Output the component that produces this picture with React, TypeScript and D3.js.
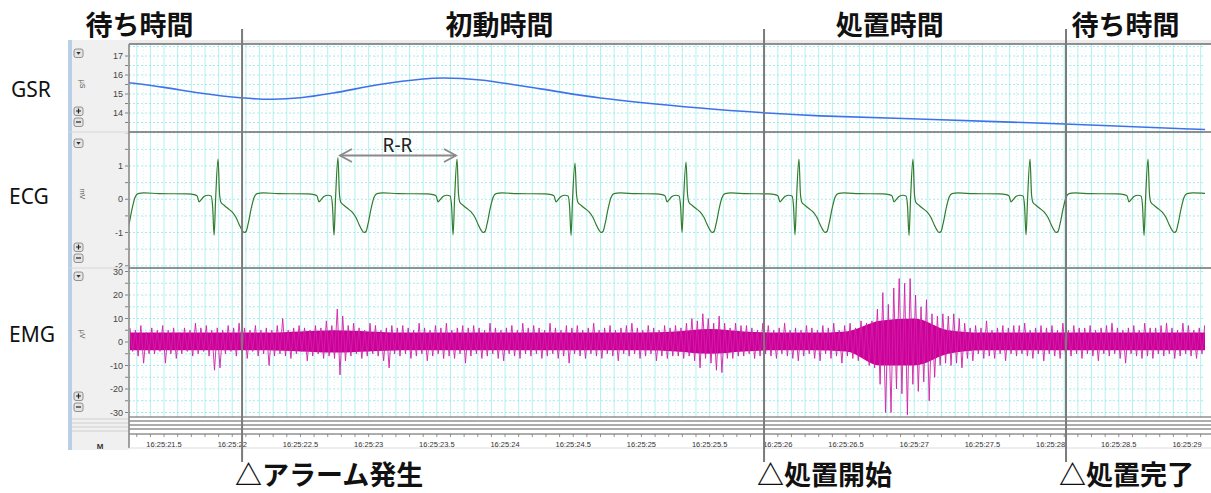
import React from 'react';
import * as d3 from 'd3';

// ---------------- data ----------------
const phaseLabels = ['待ち時間', '初動時間', '処置時間', '待ち時間'];
const phaseCenters = [21.32, 23.96, 26.82, 28.55];

const eventLabels = ['△アラーム発生', '△処置開始', '△処置完了'];
const eventTimes = [22.072, 25.899, 28.113];

const panelNames = ['GSR', 'ECG', 'EMG'];
const panelUnits = ['μS', 'mV', 'μV'];

const timeTicks = [21.5, 22, 22.5, 23, 23.5, 24, 24.5, 25, 25.5, 26, 26.5, 27, 27.5, 28, 28.5, 29];

const gsrTicks = [14, 15, 16, 17];
const ecgTicks = [-2, -1, 0, 1];
const emgTicks = [-30, -20, -10, 0, 10, 20, 30];

// GSR (μS) sampled from the trace
const gsrTimes = [21.243, 21.5, 21.76, 22.06, 22.3, 22.5, 22.74, 23.08, 23.38, 23.55, 23.82, 24.26, 24.7, 25.43, 25.92, 26.31, 27.14, 28.1, 29.02, 29.14];
const gsrValues = [15.59, 15.35, 15.05, 14.8, 14.72, 14.8, 15.05, 15.5, 15.78, 15.84, 15.74, 15.27, 14.79, 14.26, 14.0, 13.85, 13.66, 13.42, 13.16, 13.13];

// ECG (mV): R-peak times, peak heights, Q depths and one beat shape
const ecgBeatTimes = [21.023, 21.896, 22.775, 23.648, 24.513, 25.327, 26.155, 26.991, 27.849, 28.714];
const ecgRPeak = [1.2, 1.21, 1.25, 1.21, 1.09, 1.12, 1.21, 1.21, 1.21, 1.21];
const ecgQTrough = [-1.05, -1.08, -1.08, -1.07, -1.09, -1.0, -1.07, -1.09, -1.07, -1.09];
const ecgShapeDt = [-0.22, -0.176, -0.154, -0.139, -0.125, -0.103, -0.073, -0.051, -0.04, -0.029, -0.018, 0, 0.011, 0.022, 0.044, 0.073, 0.103, 0.132, 0.154, 0.176, 0.191, 0.205, 0.22, 0.242, 0.264, 0.286, 0.33, 0.44];
const ecgShapeV = [0.16, 0.14, 0.1, -0.08, -0.02, 0.08, 0.12, 0.1, -0.2, -1.05, 0.0, 1.2, 0.15, -0.1, -0.18, -0.28, -0.38, -0.55, -0.75, -0.93, -1.0, -0.97, -0.75, -0.3, 0.05, 0.17, 0.19, 0.17];
const ecgQIndex = 9;
const ecgRIndex = 11;

// EMG (μV): alternating peaks every 0.02 s from 21.25 s (one row = 0.5 s)
const emgStart = 21.25;
const emgStep = 0.02;
const emgPeaks = [
  6, -4, 5, -6, 7, -9, 4, -5, 6, -5, 5, -4, 7, -9, 5, -5, 6, -7, 4, -5, 6, -4, 5, -6, 8,
  -5, 6, -4, 7, -6, 5, -12, 6, -11, 5, -5, 7, -4, 6, -6, 8, -5, 6, -7, 5, -4, 7, -6, 5, -5,
  6, -10, 5, -6, 7, -5, 10, -6, 5, -7, 6, -5, 7, -4, 6, -8, 5, -6, 7, -5, 6, -7, 9, -6, 7,
  -7, 14, -14, 11, -8, 7, -6, 8, -5, 6, -7, 5, -6, 8, -5, 7, -6, 5, -8, 6, -11, 7, -5, 6, -6,
  7, -5, 6, -7, 5, -6, 8, -5, 6, -8, 5, -6, 7, -5, 6, -7, 8, -6, 5, -7, 6, -5, 7, -9, 6,
  -6, 7, -5, 6, -7, 5, -6, 8, -5, 6, -7, 5, -8, 6, -5, 7, -6, 5, -7, 8, -5, 6, -6, 7, -5,
  6, -7, 5, -6, 8, -5, 6, -7, 5, -6, 7, -9, 6, -5, 7, -6, 5, -7, 6, -5, 8, -6, 5, -7, 6,
  -5, 7, -6, 5, -8, 6, -5, 7, -6, 8, -5, 6, -7, 5, -6, 7, -5, 6, -8, 5, -6, 7, -7, 6, -6,
  7, -6, 6, -7, 8, -6, 10, -8, 9, -11, 12, -7, 10, -9, 8, -12, 11, -13, 8, -7, 6, -7, 8, -6, 7,
  -6, 7, -5, 6, -7, 5, -6, 8, -5, 7, -6, 5, -7, 6, -5, 8, -6, 5, -7, 6, -8, 5, -6, 7, -5,
  6, -7, 5, -8, 7, -5, 6, -7, 8, -6, 5, -9, 7, -6, 8, -7, 6, -8, 9, -7, 8, -10, 9, -11, 14,
  -18, 21, -30, 16, -30, 23, -20, 27, -22, 25, -31, 27, -18, 20, -21, 15, -17, 18, -25, 12, -15, 11, -10, 12, -9,
  11, -10, 12, -9, 10, -11, 8, -7, 6, -8, 7, -5, 6, -7, 9, -6, 5, -7, 6, -5, 7, -8, 6, -5, 7,
  -6, 7, -5, 8, -6, 5, -7, 6, -5, 7, -8, 6, -5, 7, -6, 5, -7, 8, -6, 5, -6, 7, -5, 6, -7,
  6, -5, 7, -6, 5, -8, 6, -5, 7, -6, 8, -5, 6, -7, 5, -9, 6, -5, 7, -6, 5, -7, 8, -6, 6,
  -7, 6, -5, 7, -6, 8, -5, 6, -7, 5, -6, 8, -5, 7, -6, 5, -7, 6, -5, 7, -8, 6, -5, 7, -6,
];
// dense core band of the EMG, every 0.25 s from 21.25 s
const emgCoreStep = 0.25;
const emgCoreHi = [4, 4, 4, 4, 4, 4.5, 5, 4.5, 4, 4, 4, 4, 4, 4, 4, 4, 4.5, 5.5, 4.5, 4, 4, 4.5, 9, 10, 5, 4, 4, 4, 4, 4, 4, 4, 4];
const emgCoreLo = [-3.5, -3.5, -3.5, -3.5, -3.5, -4, -4.5, -4, -3.5, -3.5, -3.5, -3.5, -3.5, -3.5, -3.5, -3.5, -4, -5, -4, -3.5, -3.5, -4, -10, -10, -5, -3.5, -3.5, -3.5, -3.5, -3.5, -3.5, -3.5, -3.5];

// ---------------- layout ----------------
const W = 1211;
const H = 493;
const PL = 129;
const PR = 1205;
const STRIP_L = 68;
const panels = [
  { top: 44, bottom: 132 },
  { top: 132, bottom: 268 },
  { top: 268, bottom: 417 },
];

const x = d3.scaleLinear().domain([21.243, 29.132]).range([PL, PR]);
const yG = d3.scaleLinear().domain([14, 17]).range([113, 56]);
const yE = d3.scaleLinear().domain([-1, 1]).range([232.5, 166]);
const yM = d3.scaleLinear().domain([-30, 30]).range([412.5, 271.5]);

const CJK = "'Noto Sans CJK JP', 'Noto Sans', sans-serif";
const SANS = "'Noto Sans', 'Open Sans', sans-serif";
const SMALL = "'Liberation Sans', Arial, sans-serif";

function fmtTime(t: number) {
  const s = Number.isInteger(t) ? String(t) : t.toFixed(1);
  return '16:25:' + s;
}

function range(a: number, b: number, step: number) {
  const out: number[] = [];
  for (let v = a; v <= b + 1e-9; v += step) out.push(+v.toFixed(4));
  return out;
}

function Grid({ top, bottom, y, hStep, hFrom, hTo }: any) {
  const vt = range(21.3, 29.1, 0.1);
  const ht = range(hFrom, hTo, hStep);
  return (
    <g>
      {vt.map((t, i) => (
        <line key={'v' + i} x1={x(t)} x2={x(t)} y1={top} y2={bottom} stroke="#b4f0f2" strokeWidth={1} />
      ))}
      {vt.map((t, i) => (
        <line key={'vd' + i} x1={x(t + 0.05)} x2={x(t + 0.05)} y1={top} y2={bottom} stroke="#d2f6f7" strokeWidth={1} strokeDasharray="1,2" />
      ))}
      {ht.map((v, i) => (
        <line key={'h' + i} x1={PL} x2={PR} y1={y(v)} y2={y(v)} stroke="#a6ecef" strokeWidth={1} strokeDasharray="2,2" />
      ))}
    </g>
  );
}

function Button({ cx, cy, glyph }: any) {
  return (
    <g>
      <rect x={cx - 4.5} y={cy - 4} width={9} height={8.5} rx={2} fill="#e4e4e4" stroke="#7a7a7a" strokeWidth={0.8} />
      {glyph === 'down' && <path d={`M${cx - 2.2},${cy - 1} L${cx + 2.2},${cy - 1} L${cx},${cy + 1.8} Z`} fill="#333" />}
      {glyph === 'plus' && <path d={`M${cx - 2.5},${cy} H${cx + 2.5} M${cx},${cy - 2.5} V${cy + 2.5}`} stroke="#222" strokeWidth={1.2} />}
      {glyph === 'minus' && <path d={`M${cx - 2.5},${cy} H${cx + 2.5}`} stroke="#222" strokeWidth={1.2} />}
    </g>
  );
}

export default function App() {
  // GSR path
  const gsrPts: [number, number][] = gsrTimes.map((t, i) => [x(t), yG(gsrValues[i])]);
  const gsrPath = d3.line().curve(d3.curveCatmullRom.alpha(0.5))(gsrPts) || '';

  // ECG path
  const ecgPts: [number, number][] = [];
  ecgBeatTimes.forEach((bt, b) => {
    ecgShapeDt.forEach((dt, k) => {
      let v = ecgShapeV[k];
      if (k === ecgQIndex) v = ecgQTrough[b];
      if (k === ecgRIndex) v = ecgRPeak[b];
      ecgPts.push([x(bt + dt), yE(v)]);
    });
  });
  const ecgPath = d3.line().curve(d3.curveMonotoneX)(ecgPts) || '';

  // EMG
  const emgPts: [number, number][] = emgPeaks.map((v, i) => [x(emgStart + i * emgStep), yM(v)]);
  const emgPath = d3.line()(emgPts) || '';
  const coreArea =
    d3
      .area<number>()
      .x((_, i) => x(emgStart + i * emgCoreStep))
      .y0((_, i) => yM(emgCoreLo[i]))
      .y1((d) => yM(d))
      .curve(d3.curveMonotoneX)(emgCoreHi) || '';

  const yScales = [yG, yE, yM];
  const tickSets = [gsrTicks, ecgTicks, emgTicks];
  const minorSets = [range(13.5, 17, 0.5), range(-2, 2, 0.5), range(-30, 30, 5)];
  const gridDefs = [
    { y: yG, hStep: 0.5, hFrom: 13, hTo: 17.5 },
    { y: yE, hStep: 0.5, hFrom: -2, hTo: 2 },
    { y: yM, hStep: 5, hFrom: -30, hTo: 30 },
  ];
  const labelY = [90, 197, 335];
  const unitY = [84, 194, 334];
  const buttonY = [
    [53, 111, 122],
    [143, 247, 258],
    [276, 396, 407],
  ];

  const xTicksMinor = range(21.3, 29.1, 0.1);

  return (
    <div style={{ position: 'absolute', left: 0, top: 0 }}>
      <svg width={W} height={H} viewBox={`0 0 ${W} ${H}`} style={{ display: 'block', background: '#fff' }}>
        <defs>
          {panels.map((p, i) => (
            <clipPath id={'clip' + i} key={i}>
              <rect x={PL} y={p.top} width={PR - PL} height={p.bottom - p.top} />
            </clipPath>
          ))}
          {panels.map((p, i) => (
            <clipPath id={'clipL' + i} key={'l' + i}>
              <rect x={STRIP_L} y={p.top + 1} width={PL - STRIP_L} height={p.bottom - p.top - 1} />
            </clipPath>
          ))}
        </defs>

        {/* left strip */}
        <rect x={STRIP_L} y={40} width={PL - STRIP_L} height={410} fill="#f0f0f0" />
        <rect x={STRIP_L} y={40} width={4} height={410} fill="#b9cfe8" />
        <rect x={PL} y={40} width={PR - PL + 6} height={4} fill="#ececec" />

        {/* panels */}
        {panels.map((p, i) => (
          <g key={i}>
            <rect x={PL} y={p.top} width={PR - PL} height={p.bottom - p.top} fill="#fff" />
            <g clipPath={`url(#clip${i})`}>
              <Grid top={p.top} bottom={p.bottom} {...gridDefs[i]} />
            </g>
          </g>
        ))}

        {/* traces */}
        <g clipPath="url(#clip0)">
          <path d={gsrPath} fill="none" stroke="#3f72ea" strokeWidth={1.6} />
        </g>
        <g clipPath="url(#clip1)">
          <path d={ecgPath} fill="none" stroke="#2f7d2f" strokeWidth={1.2} />
        </g>
        <g clipPath="url(#clip2)">
          <path d={coreArea} fill="#cc0099" />
          <path d={emgPath} fill="none" stroke="#d21fa6" strokeWidth={0.9} />
        </g>

        {/* panel borders */}
        {panels.map((p, i) => (
          <line key={'b' + i} x1={PL} x2={PR + 6} y1={p.top} y2={p.top} stroke="#6e6e6e" strokeWidth={1.6} />
        ))}
        <line x1={STRIP_L} x2={PL} y1={132} y2={132} stroke="#d8d8d8" strokeWidth={1} />
        <line x1={STRIP_L} x2={PL} y1={268} y2={268} stroke="#d8d8d8" strokeWidth={1} />

        {/* collapsed channel rows */}
        {[417, 421, 425, 429, 434].map((yy, i) => (
          <line key={'r' + i} x1={PL} x2={PR + 6} y1={yy} y2={yy} stroke="#5a5a5a" strokeWidth={1} />
        ))}
        {[419, 423, 427, 431].map((yy, i) => (
          <line key={'rs' + i} x1={STRIP_L + 4} x2={PL} y1={yy} y2={yy} stroke="#cfcfcf" strokeWidth={1} />
        ))}
        <line x1={PL} x2={PL} y1={44} y2={448} stroke="#8a8a8a" strokeWidth={1.6} />

        {/* left axes */}
        {panels.map((p, i) => (
          <g key={'ax' + i} clipPath={`url(#clipL${i})`}>
            {minorSets[i].map((v, k) => (
              <line key={'m' + k} x1={PL - 4} x2={PL - 1} y1={yScales[i](v)} y2={yScales[i](v)} stroke="#666" strokeWidth={0.8} />
            ))}
            {tickSets[i].map((v, k) => (
              <text key={'t' + k} x={PL - 6} y={yScales[i](v) + 3} textAnchor="end" fontFamily={SMALL} fontSize={9} fill="#444">
                {v}
              </text>
            ))}
            <text
              x={80}
              y={unitY[i]}
              transform={`rotate(90 80 ${unitY[i]})`}
              textAnchor="middle"
              fontFamily={SMALL}
              fontSize={7}
              fill="#555"
            >
              {panelUnits[i]}
            </text>
            <Button cx={78.5} cy={buttonY[i][0]} glyph="down" />
            <Button cx={78.5} cy={buttonY[i][1]} glyph="plus" />
            <Button cx={78.5} cy={buttonY[i][2]} glyph="minus" />
          </g>
        ))}

        {/* panel names */}
        {panelNames.map((n, i) => (
          <text key={n} x={i === 0 ? 11 : 9} y={labelY[i] + 7} fontFamily={SANS} fontSize={21} fill="#111">
            {n}
          </text>
        ))}

        {/* time axis */}
        <rect x={PL + 1} y={435} width={PR - PL} height={13} fill="#fff" />
        <line x1={PL} x2={PR + 6} y1={448} y2={448} stroke="#dcdcdc" strokeWidth={1} />
        {xTicksMinor.map((t, i) => (
          <line key={'xt' + i} x1={x(t)} x2={x(t)} y1={434} y2={437} stroke="#777" strokeWidth={0.8} />
        ))}
        {timeTicks.map((t) => (
          <text key={'xl' + t} x={x(t)} y={447} textAnchor="middle" fontFamily={SMALL} fontSize={7.5} fill="#333">
            {fmtTime(t)}
          </text>
        ))}
        <text x={100} y={449} textAnchor="middle" fontFamily={SMALL} fontSize={8} fontWeight={700} fill="#333">
          M
        </text>

        {/* R-R annotation */}
        <g stroke="#8a8a8a" strokeWidth={1.8} fill="none">
          <line x1={x(ecgBeatTimes[2]) + 2} x2={x(ecgBeatTimes[3]) - 1} y1={155.5} y2={155.5} />
          <path d={`M${x(ecgBeatTimes[2]) + 14},${149} L${x(ecgBeatTimes[2]) + 2},${155.5} L${x(ecgBeatTimes[2]) + 14},${162}`} />
          <path d={`M${x(ecgBeatTimes[3]) - 13},${149} L${x(ecgBeatTimes[3]) - 1},${155.5} L${x(ecgBeatTimes[3]) - 13},${162}`} />
        </g>
        <text
          x={(x(ecgBeatTimes[2]) + x(ecgBeatTimes[3])) / 2}
          y={152}
          textAnchor="middle"
          fontFamily={SANS}
          fontSize={19}
          fill="#222"
        >
          R-R
        </text>

        {/* event lines */}
        {eventTimes.map((t, i) => (
          <line key={'ev' + i} x1={x(t)} x2={x(t)} y1={29} y2={462} stroke="#7b7b7b" strokeWidth={2} />
        ))}

        {/* phase headers */}
        {phaseLabels.map((l, i) => (
          <text key={'ph' + i} x={x(phaseCenters[i])} y={35} textAnchor="middle" fontFamily={CJK} fontWeight={700} fontSize={27} fill="#111">
            {l}
          </text>
        ))}

        {/* event labels */}
        {eventLabels.map((l, i) => (
          <text key={'el' + i} x={x(eventTimes[i]) - 7} y={485} fontFamily={CJK} fontWeight={700} fontSize={27} fill="#111">
            {l}
          </text>
        ))}
      </svg>
    </div>
  );
}
